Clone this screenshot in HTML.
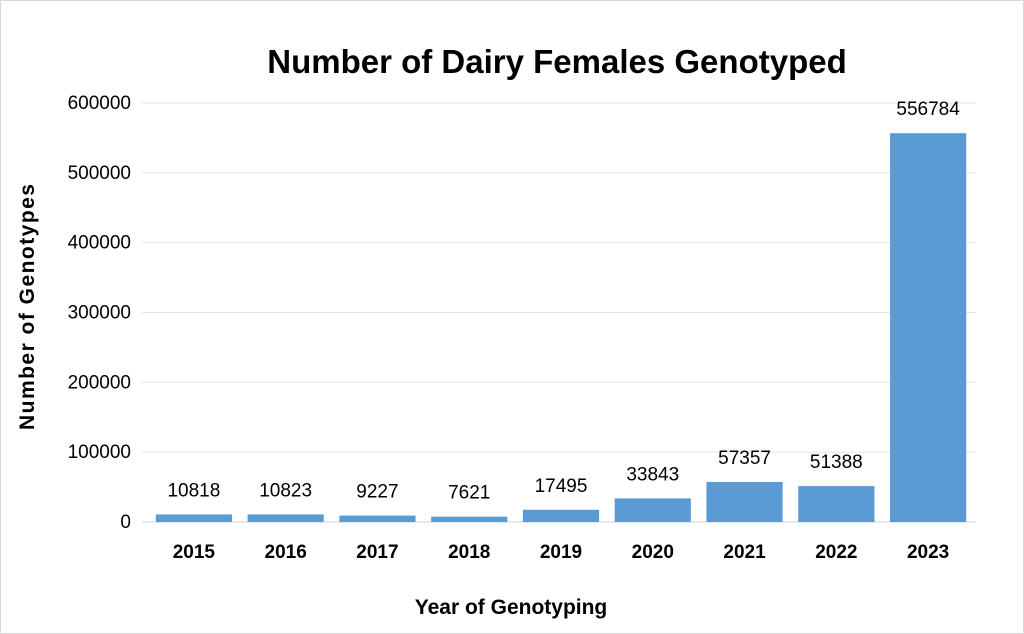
<!DOCTYPE html>
<html><head><meta charset="utf-8"><style>
html,body{margin:0;padding:0;background:#fff;}
svg{display:block;font-family:"Liberation Sans",Arial,sans-serif;}
</style></head><body>
<svg id="chart" width="1024" height="634" viewBox="0 0 1024 634">
<rect x="0.5" y="0.5" width="1023" height="633" fill="#fff" stroke="#d9d9d9"/>
<text x="557" y="73" text-anchor="middle" font-size="33" font-weight="bold" fill="#000">Number of Dairy Females Genotyped</text>
<g id="grid"></g>
<g id="yticks"></g>
<g id="bars"></g>
<g id="xticks"></g>
<text x="511" y="614" text-anchor="middle" font-size="21" font-weight="bold" fill="#000">Year of Genotyping</text>
<text transform="translate(34,307) rotate(-90)" text-anchor="middle" font-size="21" font-weight="bold" fill="#000" textLength="246">Number of Genotypes</text>
</svg>
<script>
const categories=["2015","2016","2017","2018","2019","2020","2021","2022","2023"];
const values=[10818,10823,9227,7621,17495,33843,57357,51388,556784];
const yTicks=[0,100000,200000,300000,400000,500000,600000];
const NS="http://www.w3.org/2000/svg";
const left=148,right=974,y0=522,y1=103,ymax=600000;
function yScale(v){return y0-(v/ymax)*(y0-y1);}
const step=(right-left)/categories.length;
function xCenter(i){return left+step*(i+0.5);}
function mk(tag,attrs,parent,text){const e=document.createElementNS(NS,tag);for(const k in attrs)e.setAttribute(k,attrs[k]);if(text!==undefined)e.textContent=text;parent.appendChild(e);return e;}
const grid=document.getElementById('grid'),yt=document.getElementById('yticks'),bars=document.getElementById('bars'),xt=document.getElementById('xticks');
yTicks.forEach(t=>{
  const l=mk('line',{x1:142,x2:976,y1:yScale(t),y2:yScale(t),stroke:t===0?'#d0d0d0':'#e3e3e3','stroke-width':1},grid);
  
  
  const tx=mk('text',{x:131,y:yScale(t)+6,'text-anchor':'end','font-size':19,fill:'#000'},yt,String(t));
  
  
});
const bw=step*0.83;
values.forEach((v,i)=>{
  const cx=xCenter(i);
  const r=mk('rect',{x:cx-bw/2,y:yScale(v),width:bw,height:y0-yScale(v),fill:'#5b9bd5'},bars);
  
  
  const lb=mk('text',{x:cx,y:yScale(v)-18,'text-anchor':'middle','font-size':19,fill:'#000'},bars,String(v));
  
  
  const xl=mk('text',{x:cx,y:558,'text-anchor':'middle','font-size':19,'font-weight':'bold',fill:'#000'},xt,categories[i]);
  
  
});
</script>
</body></html>
